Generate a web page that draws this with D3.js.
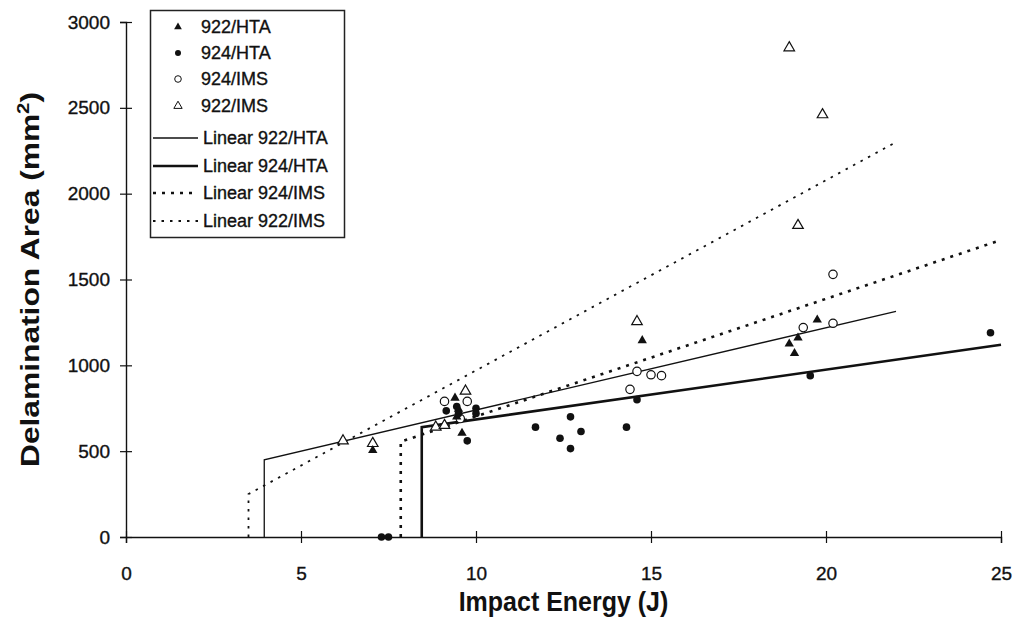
<!DOCTYPE html>
<html><head><meta charset="utf-8">
<script src="https://cdn.jsdelivr.net/npm/d3@7"></script>
<style>
html,body{margin:0;padding:0;background:#fff;}
svg{display:block;font-family:"Liberation Sans",Arial,sans-serif;}
</style></head>
<body><svg id="c" width="1015" height="621"></svg>
<script>
// ---- data ----
const xTicks = [0, 5, 10, 15, 20, 25];
const yTicks = [0, 500, 1000, 1500, 2000, 2500, 3000];
const xTitle = "Impact Energy (J)";
const yTitle = "Delamination Area (mm";

const hta922 = [[7.05,505],[9.4,810],[9.5,745],[9.6,605],[14.75,1145],[18.95,1125],[19.2,1160],[19.1,1070],[19.75,1265],[9.45,700]];
const hta924 = [[7.3,0],[7.5,0],[9.15,735],[9.5,720],[9.45,760],[9.75,560],[10.0,750],[10.0,720],[11.7,640],[12.4,575],[12.7,700],[12.7,515],[13.0,615],[14.3,640],[14.6,800],[19.55,940],[24.7,1190]];
const ims924 = [[9.1,790],[9.75,790],[14.4,860],[14.6,965],[15.0,945],[15.3,940],[19.35,1220],[20.2,1245],[20.2,1530],[9.55,690]];
const ims922 = [[6.2,560],[7.05,545],[8.85,640],[9.1,650],[9.7,850],[14.6,1255],[18.95,2850],[19.9,2460],[19.2,1815]];

// trendlines: vertical rise at start, then straight line
const lin922HTA = [[3.95,0],[3.95,450],[22,1315]];
const lin924HTA = [[8.45,0],[8.45,640],[25,1120]];
const lin924IMS = [[7.85,0],[7.85,555],[25,1730]];
const lin922IMS = [[3.5,0],[3.5,250],[22,2300]];

const legendLabels = ["922/HTA","924/HTA","924/IMS","922/IMS","Linear 922/HTA","Linear 924/HTA","Linear 924/IMS","Linear 922/IMS"];

// ---- drawing ----
const svg = d3.select("#c");
const ink = "#111";
const x = d3.scaleLinear().domain([0,25]).range([126,1001]);
const y = d3.scaleLinear().domain([0,3000]).range([537,22]);

// axes
const gx = svg.append("g").attr("transform","translate(0,537)")
  .call(d3.axisBottom(x).tickValues(xTicks).tickFormat(d3.format("d")).tickSizeOuter(0).tickSize(6).tickPadding(24));
gx.selectAll(".tick line").attr("y1",-6).attr("y2",6);
const gy = svg.append("g").attr("transform","translate(126,0)")
  .call(d3.axisLeft(y).tickValues(yTicks).tickFormat(d3.format("d")).tickSizeOuter(0).tickSize(6).tickPadding(10));
gy.selectAll(".tick line").attr("x1",-6).attr("x2",6);
[gx,gy].forEach(g=>{
  g.select(".domain").attr("stroke",ink).attr("stroke-width",1.4);
  g.selectAll(".tick line").attr("stroke",ink).attr("stroke-width",1.2);
  g.selectAll(".tick text").attr("fill",ink).attr("font-size",19)
    .attr("stroke",ink).attr("stroke-width",0.35)
    .attr("font-family","Liberation Sans, Arial, sans-serif");
});

// titles
svg.append("text").attr("transform",`translate(${x(12.5)},611) scale(1,1.1)`).attr("text-anchor","middle")
  .attr("font-size",25).attr("font-weight","bold").attr("fill",ink).text(xTitle);
const yt = svg.append("text").attr("transform","translate(39,"+y(1500)+") rotate(-90)")
  .attr("text-anchor","middle").attr("font-size",25).attr("font-weight","bold").attr("fill",ink)
  .attr("textLength",375).attr("lengthAdjust","spacingAndGlyphs");
yt.append("tspan").text(yTitle);
yt.append("tspan").attr("dy",-10).attr("font-size",16).text("2");
yt.append("tspan").attr("dy",10).text(")");

// trendlines
const line = d3.line().x(d=>x(d[0])).y(d=>y(d[1]));
const styles = {
  l922HTA:{w:1.3,dash:null},
  l924HTA:{w:2.6,dash:null},
  l924IMS:{w:2.6,dash:"3,6"},
  l922IMS:{w:1.8,dash:"2.5,6"}
};
function drawLine(data, st){
  svg.append("path").datum(data).attr("d",line).attr("fill","none").attr("stroke",ink)
    .attr("stroke-width",st.w).attr("stroke-dasharray",st.dash);
}
drawLine(lin922HTA, styles.l922HTA);
drawLine(lin924HTA, styles.l924HTA);
drawLine(lin924IMS, styles.l924IMS);
drawLine(lin922IMS, styles.l922IMS);

// markers
const triF = d3.symbol().type(d3.symbolTriangle).size(38)();
const triO = d3.symbol().type(d3.symbolTriangle).size(48)();
function drawPts(data, kind){
  const g = svg.append("g");
  data.forEach(d=>{
    const px=x(d[0]), py=y(d[1]);
    if(kind==="triF") g.append("path").attr("d",triF).attr("transform",`translate(${px},${py})`).attr("fill",ink);
    if(kind==="triO") g.append("path").attr("d",triO).attr("transform",`translate(${px},${py})`).attr("fill","#fff").attr("stroke",ink).attr("stroke-width",1.2);
    if(kind==="cirF") g.append("circle").attr("cx",px).attr("cy",py).attr("r",3.8).attr("fill",ink);
    if(kind==="cirO") g.append("circle").attr("cx",px).attr("cy",py).attr("r",4.2).attr("fill","#fff").attr("stroke",ink).attr("stroke-width",1.2);
  });
}
drawPts(ims922,"triO");
drawPts(ims924,"cirO");
drawPts(hta922,"triF");
drawPts(hta924,"cirF");

// legend
const lg = svg.append("g");
lg.append("rect").attr("x",150.5).attr("y",10.5).attr("width",194).attr("height",227)
  .attr("fill","#fff").attr("stroke","#222").attr("stroke-width",1.5);
const rowY = [27,53,79,106,138,166,193,221];
const kinds = ["triF","cirF","cirO","triO"];
const lineSt = [styles.l922HTA, styles.l924HTA, styles.l924IMS, styles.l922IMS];
legendLabels.forEach((lab,i)=>{
  const ry = rowY[i];
  if(i<4){
    const k = kinds[i];
    if(k==="triF") lg.append("path").attr("d",d3.symbol().type(d3.symbolTriangle).size(26)()).attr("transform",`translate(178,${ry})`).attr("fill",ink);
    if(k==="cirF") lg.append("circle").attr("cx",178).attr("cy",ry).attr("r",3).attr("fill",ink);
    if(k==="cirO") lg.append("circle").attr("cx",178).attr("cy",ry).attr("r",3.3).attr("fill","none").attr("stroke",ink).attr("stroke-width",1);
    if(k==="triO") lg.append("path").attr("d",d3.symbol().type(d3.symbolTriangle).size(30)()).attr("transform",`translate(178,${ry})`).attr("fill","none").attr("stroke",ink).attr("stroke-width",1);
  } else {
    const st = lineSt[i-4];
    lg.append("line").attr("x1",153).attr("x2",198).attr("y1",ry).attr("y2",ry)
      .attr("stroke",ink).attr("stroke-width",st.w).attr("stroke-dasharray",st.dash);
  }
  lg.append("text").attr("x", i<4?201:203).attr("y",ry).attr("dy","0.36em")
    .attr("font-size",18).attr("fill",ink).attr("stroke",ink).attr("stroke-width",0.35).text(lab);
});
</script>
</body></html>
